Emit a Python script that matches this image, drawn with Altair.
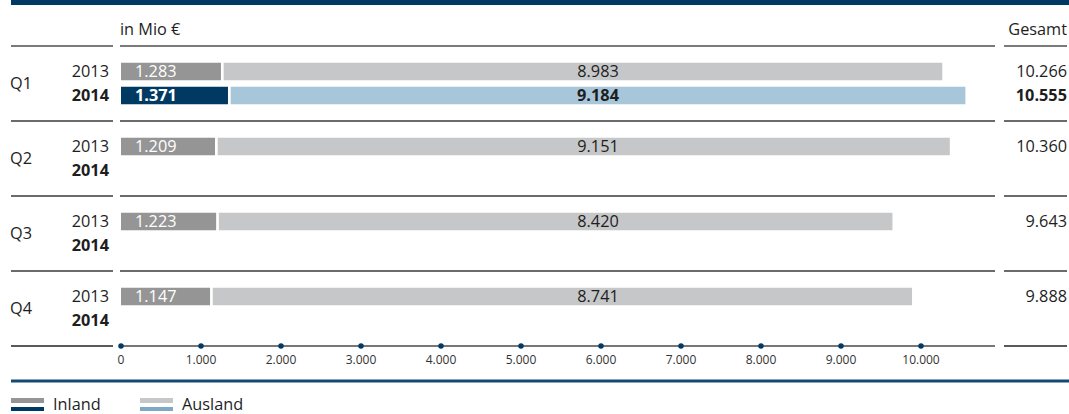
import altair as alt
import pandas as pd

# ---------------- data ----------------
quarters = ["Q1", "Q2", "Q3", "Q4"]
years = ["2013", "2014"]
inland_2013 = [1283, 1209, 1223, 1147]
ausland_2013 = [8983, 9151, 8420, 8741]
gesamt_2013 = [10266, 10360, 9643, 9888]
inland_2014 = [1371, None, None, None]
ausland_2014 = [9184, None, None, None]
gesamt_2014 = [10555, None, None, None]
axis_ticks = [0, 1000, 2000, 3000, 4000, 5000, 6000, 7000, 8000, 9000, 10000]
legend_labels = ["Inland", "Ausland"]
unit_label = "in Mio €"
total_label = "Gesamt"

FONT = "Open Sans"
FS = 16.3
NAVY = "#003a63"
TEXT = "#1e1e1e"


def de(n):
    return f"{int(n):,}".replace(",", ".")


# ---------------- layout helpers ----------------
W, H = 1069, 414
GROUP = 3.125          # row-slot distance between quarters
xs = alt.Scale(domain=[-1512.5, 11850], range=[0, W], nice=False, zero=False)
ys = alt.Scale(domain=[-71.5 / 24, (H - 71.5) / 24], range=[0, H], nice=False, zero=False)

rows = []
for qi, q in enumerate(quarters):
    series = [(inland_2013[qi], ausland_2013[qi], gesamt_2013[qi]),
              (inland_2014[qi], ausland_2014[qi], gesamt_2014[qi])]
    for yi, yr in enumerate(years):
        inl, aus, tot = series[yi]
        rows.append(dict(quarter=q, year=yr, v=qi * GROUP + yi,
                         vt=qi * GROUP + yi - 0.365, vb=qi * GROUP + yi + 0.365,
                         start=0, inland=inl, ausland=aus,
                         end=(inl + aus) if inl is not None else None,
                         total=tot,
                         inl_lbl=de(inl) if inl is not None else "",
                         aus_lbl=de(aus) if aus is not None else "",
                         tot_lbl=de(tot) if tot is not None else ""))
df = pd.DataFrame(rows)
bars = df.dropna(subset=["inland"])

qdf = pd.DataFrame({"quarter": quarters,
                    "v": [i * GROUP + 0.5 for i in range(len(quarters))]})
sep_v = [i * GROUP - 1.0625 for i in range(len(quarters) + 1)]
sep_df = pd.DataFrame({"v": sep_v[1:-1]})
head_df = pd.DataFrame({"v": [sep_v[0]]})
axis_v = sep_v[-1]
tick_df = pd.DataFrame({"t": axis_ticks, "v": axis_v,
                        "lbl": [de(t) for t in axis_ticks]})
axis_df = pd.DataFrame({"v": [axis_v]})
one = pd.DataFrame({"a": [0]})

X = lambda f: alt.X(f, scale=xs, axis=None)
Y = lambda f: alt.Y(f, scale=ys, axis=None)

color_scale = alt.Scale(domain=["Inland 2013", "Ausland 2013", "Inland 2014", "Ausland 2014"],
                        range=["#959595", "#c6c7c8", NAVY, "#a8c6d9"])

layers = []

# top band
layers.append(alt.Chart(one).mark_rect(color=NAVY).encode(
    x=alt.value(11), x2=alt.value(W), y=alt.value(0), y2=alt.value(5)))

# header texts
layers.append(alt.Chart(one).mark_text(text=unit_label, align="left", baseline="middle",
                                       font=FONT, fontSize=FS, color=TEXT).encode(
    x=alt.value(120), y=alt.value(30)))
layers.append(alt.Chart(one).mark_text(text=total_label, align="right", baseline="middle",
                                       font=FONT, fontSize=FS, color=TEXT).encode(
    x=alt.value(1067), y=alt.value(30)))

# horizontal rules (three segments each)
segs = [(11, 113), (120, 995), (1004, 1067)]
for x1, x2 in segs:
    layers.append(alt.Chart(head_df).mark_rule(color="#7a7a7a", strokeWidth=2).encode(
        x=alt.value(x1), x2=alt.value(x2), y=Y("v:Q")))
    layers.append(alt.Chart(sep_df).mark_rule(color="#3a3a3a", strokeWidth=1.5).encode(
        x=alt.value(x1), x2=alt.value(x2), y=Y("v:Q")))
for x1, x2 in [segs[0], segs[2]]:
    layers.append(alt.Chart(axis_df).mark_rule(color="#222222", strokeWidth=1.5).encode(
        x=alt.value(x1), x2=alt.value(x2), y=Y("v:Q")))
layers.append(alt.Chart(axis_df).mark_rule(color="#4a4a4a", strokeWidth=1.5).encode(
    x=alt.value(121), x2=alt.value(995), y=Y("v:Q")))

# bars
inl = bars.assign(series="Inland " + bars["year"])
aus = bars.assign(series="Ausland " + bars["year"])
layers.append(alt.Chart(inl).mark_rect(x2Offset=-2.7).encode(
    x=X("start:Q"), x2="inland:Q", y=Y("vt:Q"), y2="vb:Q",
    color=alt.Color("series:N", scale=color_scale, legend=None)))
layers.append(alt.Chart(aus).mark_rect().encode(
    x=X("inland:Q"), x2="end:Q", y=Y("vt:Q"), y2="vb:Q",
    color=alt.Color("series:N", scale=color_scale, legend=None)))

# value labels
for yr, weight in [("2013", "normal"), ("2014", "bold")]:
    sub = bars[bars["year"] == yr]
    layers.append(alt.Chart(sub).mark_text(align="left", baseline="middle", dx=14,
                                           font=FONT, fontSize=FS, fontWeight=weight,
                                           color="white").encode(
        x=X("start:Q"), y=Y("v:Q"), text="inl_lbl:N"))
    layers.append(alt.Chart(sub).mark_text(align="center", baseline="middle",
                                           font=FONT, fontSize=FS, fontWeight=weight,
                                           color=TEXT).encode(
        x=alt.value(598), y=Y("v:Q"), text="aus_lbl:N"))
    layers.append(alt.Chart(sub).mark_text(align="right", baseline="middle",
                                           font=FONT, fontSize=FS, fontWeight=weight,
                                           color=TEXT).encode(
        x=alt.value(1067), y=Y("v:Q"), text="tot_lbl:N"))
    ysub = df[df["year"] == yr]
    layers.append(alt.Chart(ysub).mark_text(align="right", baseline="middle",
                                            font=FONT, fontSize=FS, fontWeight=weight,
                                            color=TEXT).encode(
        x=alt.value(109), y=Y("v:Q"), text="year:N"))

# quarter labels
layers.append(alt.Chart(qdf).mark_text(align="left", baseline="middle", font=FONT,
                                       fontSize=FS, color=TEXT).encode(
    x=alt.value(10), y=Y("v:Q"), text="quarter:N"))

# axis dots and labels
layers.append(alt.Chart(tick_df).mark_point(filled=True, opacity=1, size=30, color=NAVY).encode(
    x=X("t:Q"), y=Y("v:Q")))
layers.append(alt.Chart(tick_df).mark_text(align="center", baseline="middle", dy=13.5,
                                           font=FONT, fontSize=12, color="#333333").encode(
    x=X("t:Q"), y=Y("v:Q"), text="lbl:N"))

# bottom band
layers.append(alt.Chart(one).mark_rule(color="#134a74", strokeWidth=3).encode(
    x=alt.value(11), x2=alt.value(W), y=alt.value(381)))

# legend
leg = [(11, "#959595", NAVY, legend_labels[0]), (140, "#c6c7c8", "#7ea8c5", legend_labels[1])]
for x0, c1, c2, lbl in leg:
    layers.append(alt.Chart(one).mark_rect(color=c1).encode(
        x=alt.value(x0), x2=alt.value(x0 + 33), y=alt.value(398), y2=alt.value(403)))
    layers.append(alt.Chart(one).mark_rect(color=c2).encode(
        x=alt.value(x0), x2=alt.value(x0 + 33), y=alt.value(407), y2=alt.value(411)))
    layers.append(alt.Chart(one).mark_text(text=lbl, align="left", baseline="alphabetic",
                                           font=FONT, fontSize=FS, color=TEXT).encode(
        x=alt.value(x0 + 42), y=alt.value(410)))

chart = alt.layer(*layers).properties(
    width=W, height=H, autosize=alt.AutoSizeParams(type="none"), padding=0,
    background="white"
).configure_view(stroke=None)

chart.save("out.html", embed_options={"renderer": "svg", "actions": False})
